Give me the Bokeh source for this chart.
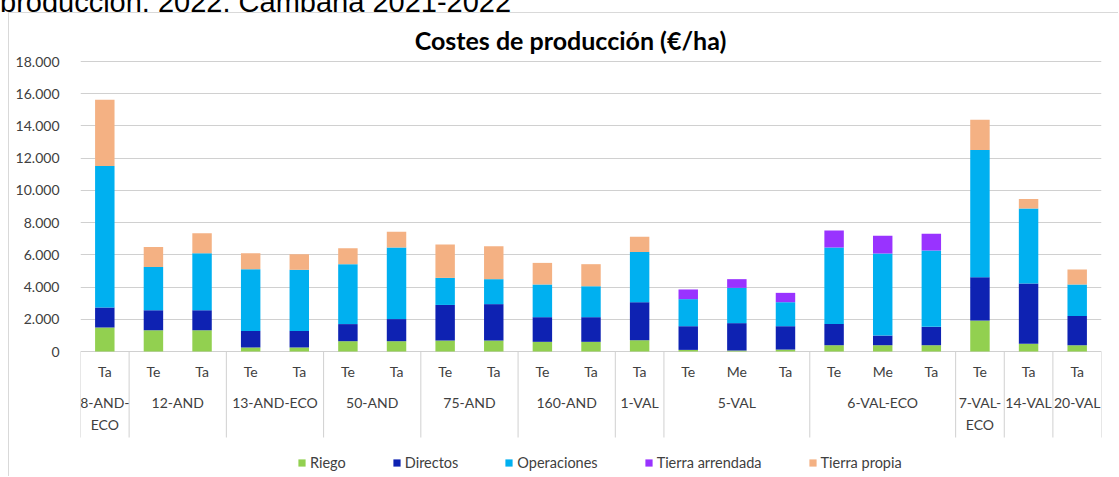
from itertools import groupby
from bokeh.plotting import figure
from bokeh.models import (FactorRange, Range1d, ColumnDataSource, FixedTicker, Legend,
                          LegendItem, Div)
from bokeh.core.properties import value
from bokeh.embed import file_html
from bokeh.resources import INLINE

# ---- data ----
groups = ["8-AND-\nECO", "12-AND", "12-AND", "13-AND-ECO", "13-AND-ECO", "50-AND", "50-AND",
          "75-AND", "75-AND", "160-AND", "160-AND", "1-VAL", "5-VAL", "5-VAL", "5-VAL",
          "6-VAL-ECO", "6-VAL-ECO", "6-VAL-ECO", "7-VAL-\nECO", "14-VAL", "20-VAL"]
subs = ["Ta", "Te", "Ta", "Te", "Ta", "Te", "Ta", "Te", "Ta", "Te", "Ta", "Ta",
        "Te", "Me", "Ta", "Te", "Me", "Ta", "Te", "Ta", "Ta"]

riego = [1490, 1320, 1320, 250, 250, 640, 640, 680, 680, 600, 600, 700,
         100, 60, 120, 390, 390, 390, 1920, 480, 390]
directos = [1240, 1240, 1240, 1030, 1030, 1060, 1370, 2210, 2260, 1530, 1530, 2360,
            1470, 1700, 1450, 1320, 600, 1140, 2690, 3740, 1820]
operaciones = [8790, 2690, 3540, 3830, 3790, 3720, 4450, 1680, 1550, 2030, 1920, 3120,
               1680, 2190, 1490, 4740, 5090, 4740, 7900, 4660, 1950]
arrendada = [0, 0, 0, 0, 0, 0, 0, 0, 0, 0, 0, 0,
             600, 540, 580, 1060, 1100, 1040, 0, 0, 0]
propia = [4100, 1240, 1240, 990, 970, 990, 970, 2070, 2050, 1340, 1370, 950,
          0, 0, 0, 0, 0, 0, 1880, 580, 930]

series_names = ["Riego", "Directos", "Operaciones", "Tierra arrendada", "Tierra propia"]
series_keys = ["riego", "directos", "operaciones", "arrendada", "propia"]
colors = ["#92D050", "#0E22B2", "#00B0F0", "#9933FF", "#F4B183"]

y_ticks = [0, 2000, 4000, 6000, 8000, 10000, 12000, 14000, 16000, 18000]
y_tick_labels = ["0", "2.000", "4.000", "6.000", "8.000", "10.000", "12.000",
                 "14.000", "16.000", "18.000"]

title_text = "Costes de producción (€/ha)"
header_text = "producción. 2022. Campaña 2021-2022"

# ---- layout (page pixels) ----
PAGE_W, PAGE_H = 1119, 477
OX, OY = 9, 13             # figure canvas origin on the page (after border box)
W, H = PAGE_W - OX, PAGE_H - OY
FL, FR = 80, 1101          # frame left/right (page px)
Y0_PX, YMAX_PX = 351, 61   # page rows of 0 and 18000
UPP = 18000 / (Y0_PX - YMAX_PX)   # data units per pixel
def ypx(py):               # page pixel row -> data value
    return (Y0_PX - py) * UPP
N = len(subs)
XPP = N / (FR - FL)        # synthetic x units per pixel

FONT = "Lato"
TXT = "#404040"
GRID = "#D0D0D0"

# ---- header (cut off at the top of the page, as in the source) ----
header = Div(text=('<div style="font-family: \'Liberation Sans\', Arial; font-size: 29px; '
                   'line-height: 34px; margin-top: -20px; white-space: nowrap; color: #000;">'
                   + header_text + '</div>'),
             width=PAGE_W, height=OY - 1, margin=0, styles={"overflow": "hidden"})

# ---- figure ----
factors = list(zip(groups, subs))
src = ColumnDataSource(dict(x=factors, riego=riego, directos=directos,
                            operaciones=operaciones, arrendada=arrendada, propia=propia))

xr = FactorRange(factors=factors, group_padding=0, factor_padding=0, range_padding=0)
p = figure(x_range=xr, y_range=Range1d(ypx(PAGE_H), ypx(OY)), width=W, height=H,
           output_backend="svg", toolbar_location=None, title=None, margin=0,
           min_border_left=FL - OX, min_border_right=PAGE_W - FR,
           min_border_top=0, min_border_bottom=0)
p.styles = {"margin-left": f"{OX - 1}px", "border-left": "1px solid #D9D9D9",
            "border-top": "1px solid #D9D9D9"}
p.outline_line_color = None
p.background_fill_color = "white"
p.xaxis.visible = False

rs = p.vbar_stack(series_keys, x="x", width=0.4, source=src, color=colors, line_color=None)

# y axis
p.yaxis.ticker = FixedTicker(ticks=y_ticks)
p.yaxis.major_label_overrides = {t: l for t, l in zip(y_ticks, y_tick_labels)}
p.yaxis.axis_line_color = None
p.yaxis.major_tick_line_color = None
p.yaxis.minor_tick_line_color = None
p.yaxis.major_label_standoff = 15
p.yaxis.major_label_text_font = FONT
p.yaxis.major_label_text_font_size = "14px"
p.yaxis.major_label_text_color = TXT
p.ygrid.ticker = FixedTicker(ticks=y_ticks)
p.ygrid.grid_line_color = GRID
p.xgrid.grid_line_color = None

# category axis (drawn with the categorical scale)
bounds = [0]
for g, grp in groupby(groups):
    bounds.append(bounds[-1] + len(list(grp)))
p.segment(x0=bounds, x1=bounds, y0=[0] * len(bounds), y1=[ypx(437)] * len(bounds),
          line_color=GRID, line_width=1)
p.text(x=factors, y=[ypx(371)] * N, text=subs, text_align="center",
       text_baseline="middle", text_font=value(FONT), text_font_size="14px", text_color=TXT)
ugroups = list(dict.fromkeys(groups))
p.text(x=ugroups, y=[ypx(393)] * len(ugroups), text=ugroups, text_align="center",
       text_baseline="top", text_font=value(FONT), text_font_size="14px",
       text_line_height=1.35, text_color=TXT)

# title
p.text(x=[(570 - FL) * XPP], y=[ypx(39)], text=[title_text], text_align="center",
       text_baseline="middle", text_font=value(FONT), text_font_style="bold",
       text_font_size="25px", text_color="black")

# legend
items = [LegendItem(label=n, renderers=[r]) for n, r in zip(series_names, rs)]
leg = Legend(items=items, orientation="horizontal", location=(297 - FL, 6),
             glyph_width=9, glyph_height=9, label_height=9, label_standoff=4, spacing=46,
             label_text_font=FONT, label_text_font_size="14.5px", label_text_color=TXT,
             border_line_color=None, background_fill_alpha=0, padding=0, margin=0)
p.add_layout(leg, "center")

open("out.html", "w").write(file_html([header, p], INLINE))
